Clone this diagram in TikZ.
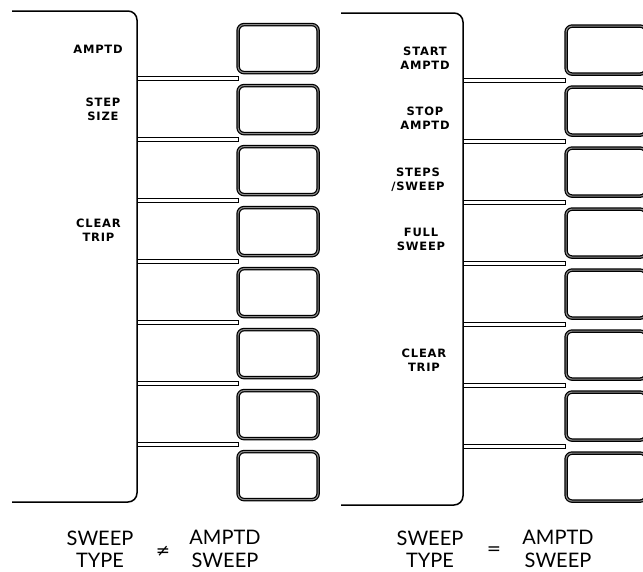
\documentclass[tikz,border=0pt]{standalone}
\usepackage{fontspec}
\newfontfamily\keyfont{DejaVu Sans}[LetterSpace=7]
\newfontfamily\capfont{Lato}
\newfontfamily\relfont{DejaVu Sans}
\tikzset{
  softkey/.style={draw, rounded corners=6pt, line width=1.2pt, double=black!45,
    double distance=1.1pt, minimum width=80pt, minimum height=48pt, inner sep=0pt,
    anchor=north west},
  panel/.style={draw, line width=1.5pt, rounded corners=9pt},
  sepbar/.style={draw, line width=1pt, fill=white},
  lbl/.style={font=\keyfont\bfseries\fontsize{11.5}{14}\selectfont, align=center, inner sep=0pt},
  captxt/.style={font=\capfont\fontsize{20}{22.5}\selectfont, align=center, inner sep=0pt},
  relsym/.style={inner sep=0pt, font=\relfont\fontsize{17}{17}\selectfont},
}
\begin{document}
\begin{tikzpicture}[x=1pt,y=-1pt]
\useasboundingbox (0,0) rectangle (643,571);
% left panel
\draw[panel] (12,11) -- (137,11) -- (137,502) -- (12,502);
\foreach \i in {0,...,6} {
  \draw[sepbar] (137,{78+61*\i-2}) rectangle (238,{78+61*\i+2});
}
\foreach \i in {0,...,7} {
  \node[softkey] (kL\i) at (237.5,{24+61*\i}) {};
}
\node[lbl] (lA) at (98,49.5) {AMPTD};
\node[lbl] (lB) at (103,109) {STEP\\SIZE};
\node[lbl] (lC) at (98.5,230.5) {CLEAR\\TRIP};
% right panel
\draw[panel] (341,13) -- (463,13) -- (463,505) -- (341,505);
\foreach \i in {0,...,6} {
  \draw[sepbar] (463,{80.5+61*\i-2}) rectangle (565,{80.5+61*\i+2});
}
\foreach \i in {0,...,7} {
  \node[softkey] (kR\i) at (565.5,{25.5+61*\i}) {};
}
\node[lbl] (rA) at (425,58.5) {START\\AMPTD};
\node[lbl] (rB) at (425,118) {STOP\\AMPTD};
\node[lbl] (rC) at (418,179.5) {STEPS\\/SWEEP};
\node[lbl] (rD) at (421,239) {FULL\\SWEEP};
\node[lbl] (rE) at (424,360) {CLEAR\\TRIP};
% captions
\node[captxt] (c1) at (100,549) {SWEEP\\TYPE};
\node[relsym] (c2) at (163,551) {≠};
\node[captxt] (c3) at (225,549) {AMPTD\\SWEEP};
\node[captxt] (c4) at (430,549) {SWEEP\\TYPE};
\node[relsym] (c5) at (494,551) {=};
\node[captxt] (c6) at (558,549) {AMPTD\\SWEEP};
\end{tikzpicture}
\end{document}
